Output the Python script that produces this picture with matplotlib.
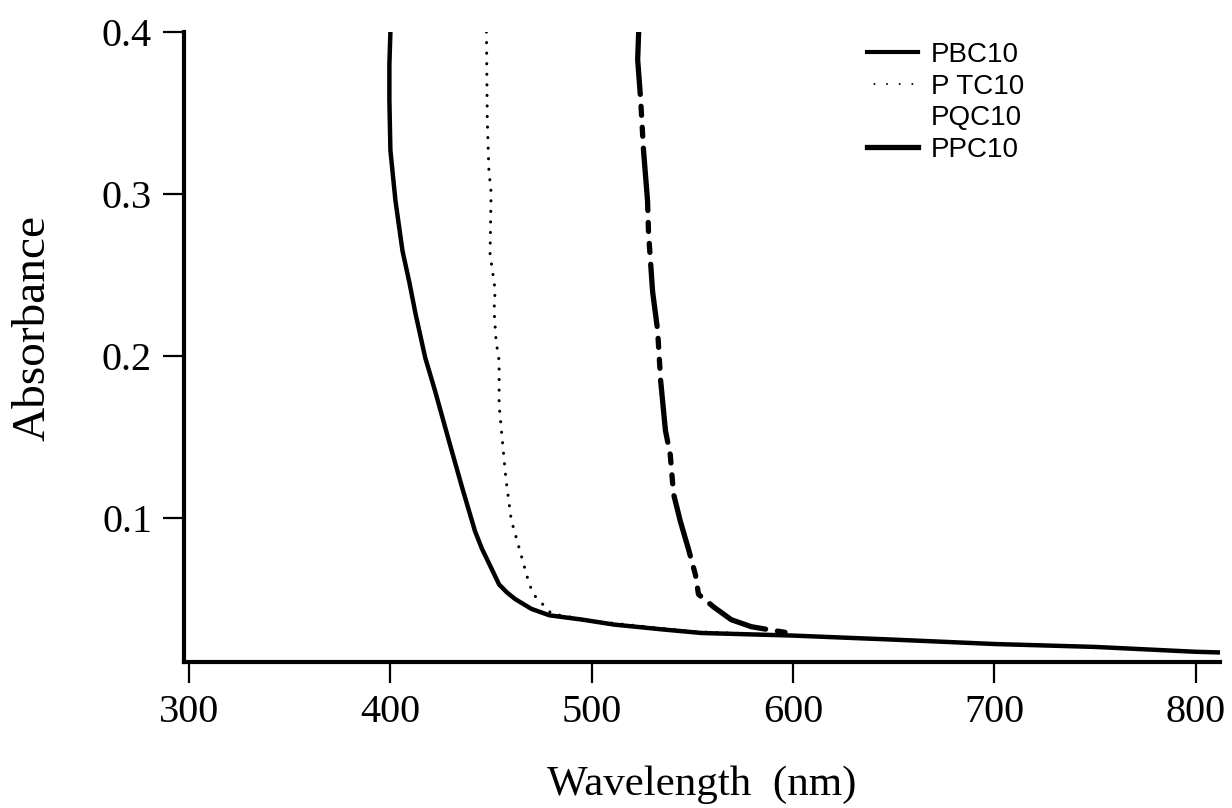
import matplotlib
matplotlib.use("Agg")
import matplotlib.pyplot as plt
from matplotlib.lines import Line2D

plt.rcParams['lines.scale_dashes'] = False

# wavelength (nm) / absorbance
pbc10_wl = [400.0, 399.5, 399.5, 400.0, 402.5, 406.0, 409.5, 412.5, 417.3, 422.3,
            429.0, 435.6, 442.0, 445.5, 449.0, 454.0, 458.0, 462.0, 470.0, 479.0,
            495.0, 511.0, 536.0, 554.5, 600.0, 650.0, 700.0, 750.0, 800.0, 815.0]
pbc10_abs = [0.400, 0.380, 0.358, 0.327, 0.296, 0.265, 0.245, 0.226, 0.199, 0.178,
             0.148, 0.119, 0.092, 0.081, 0.072, 0.059, 0.054, 0.050, 0.044, 0.040,
             0.0374, 0.0343, 0.0312, 0.0291, 0.0275, 0.0250, 0.0223, 0.0205, 0.0175, 0.0170]

ptc10_wl = [447.7, 448.1, 448.9, 450.0, 449.5, 452.0, 451.5, 452.5, 454.0, 454.0,
            455.0, 456.4, 457.4, 460.0, 468.8, 471.0, 480.0, 500.0, 550.0, 590.0]
ptc10_abs = [0.400, 0.347, 0.315, 0.301, 0.263, 0.241, 0.228, 0.209, 0.197, 0.170,
             0.156, 0.137, 0.124, 0.099, 0.060, 0.053, 0.041, 0.0365, 0.0300, 0.0280]

ppc10_wl = [523.3, 522.8, 524.3, 525.7, 527.7, 528.2, 530.2, 532.7, 534.2, 536.6,
            539.0, 540.6, 544.0, 548.0, 551.5, 553.0, 560.4, 569.3, 579.2, 587.6, 596.0]
ppc10_abs = [0.400, 0.383, 0.358, 0.327, 0.296, 0.276, 0.240, 0.216, 0.185, 0.154,
             0.139, 0.115, 0.098, 0.081, 0.065, 0.053, 0.0453, 0.0373, 0.0330, 0.0312, 0.0295]

x_ticks = [300, 400, 500, 600, 700, 800]
y_ticks = [0.1, 0.2, 0.3, 0.4]
labels = ['PBC10', 'P TC10', 'PQC10', 'PPC10']

fig = plt.figure(figsize=(12.32, 8.08), dpi=100)
ax = fig.add_axes([184 / 1232, 1 - 662 / 808, (1220 - 184) / 1232, (662 - 32) / 808])

ax.plot(pbc10_wl, pbc10_abs, color='black', lw=3.2, solid_capstyle='round',
        solid_joinstyle='round')
ax.plot(ptc10_wl, ptc10_abs, color='black', lw=2.2, linestyle=(0, (0.1, 7.5)),
        dash_capstyle='round')
ax.plot(ppc10_wl, ppc10_abs, color='black', lw=3.8,
        linestyle=(0, (45, 8.6, 6.5, 8.6, 6.5, 8.6)), dash_capstyle='round')

ax.set_xlim(297.5, 812)
ax.set_ylim(0.0112, 0.4)
ax.set_xticks(x_ticks)
ax.set_yticks(y_ticks)
ax.set_xticklabels([str(t) for t in x_ticks])
ax.set_yticklabels(['%.1f' % t for t in y_ticks])

for side in ['top', 'right']:
    ax.spines[side].set_visible(False)
for side in ['left', 'bottom']:
    ax.spines[side].set_linewidth(3.0)
    ax.spines[side].set_capstyle('projecting')

serif = ['Liberation Serif', 'DejaVu Serif']
ax.tick_params(axis='both', direction='out', length=15, width=1.6, pad=8,
               labelsize=29)
for lab in ax.get_xticklabels() + ax.get_yticklabels():
    lab.set_family(serif)

ax.set_xlabel('Wavelength  (nm)', fontsize=31, family=serif)
ax.set_ylabel('Absorbance', fontsize=34, family=serif)
ax.xaxis.set_label_coords(0.5, -0.165)
ax.yaxis.set_label_coords(-0.125, 0.53)

handles = [Line2D([], [], color='black', lw=3.0),
           Line2D([], [], color='black', lw=1.4, linestyle=(22, (0.1, 9)),
                  dash_capstyle='round'),
           Line2D([], [], linestyle='none'),
           Line2D([], [], color='black', lw=3.8)]
fig.legend(handles, labels, loc='upper left',
           bbox_to_anchor=(867 / 1232, 1 - 42 / 808), frameon=False,
           prop={'family': ['Liberation Sans', 'DejaVu Sans'], 'size': 20},
           handlelength=1.85, handletextpad=0.45, labelspacing=0.2,
           borderpad=0, borderaxespad=0)

fig.savefig('out.png', dpi=100)
